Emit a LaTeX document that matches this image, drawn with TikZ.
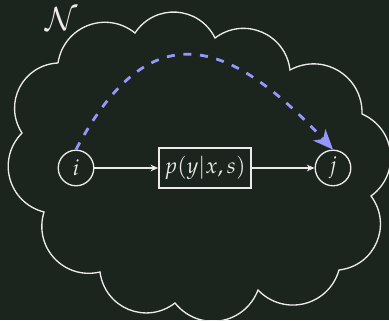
\documentclass[tikz,border=0pt]{standalone}
\usepackage{mathpazo}
\usetikzlibrary{arrows.meta}
\definecolor{bgcol}{RGB}{28,37,29}
\definecolor{fgcol}{RGB}{235,235,235}
\definecolor{linkcol}{RGB}{150,150,255}
\begin{document}
\begin{tikzpicture}[
                x=0.45pt, y=0.45pt,
                netcloud/.style={
                    draw=fgcol,
                    line width=0.6pt
                },
                puffarc/.style={
                    bend left=60,
                    looseness=1.15
                },
                agent/.style={
                    circle,
                    draw=fgcol,
                    line width=0.6pt,
                    text=fgcol,
                    minimum size=16pt,
                    inner sep=0pt
                },
                channel/.style={
                    rectangle,
                    draw=fgcol,
                    line width=0.6pt,
                    text=fgcol,
                    minimum width=41.5pt,
                    minimum height=18pt,
                    inner sep=1pt
                },
                arrow/.style={
                    -{Stealth[length=3.5pt,width=3pt]},
                    draw=fgcol,
                    line width=0.6pt
                },
                link/.style={
                    -{Stealth[length=9pt,width=7.5pt,inset=2.5pt]},
                    draw=linkcol,
                    line width=1.25pt,
                    dash pattern=on 3.6pt off 3.9pt
                }
            ]
                \fill[bgcol] (0,0) rectangle (389,320);
                \useasboundingbox (0,0) rectangle (389,320);

                % the network cloud, puff by puff
                \draw[netcloud] (58,257) to[puffarc] (135,287) to[puffarc] (215,282)
                    to[puffarc] (290,250) to[puffarc] (362,206) to[puffarc] (371,124)
                    to[puffarc] (339,50) to[puffarc] (258,30) to[puffarc] (175,17)
                    to[puffarc] (100,48) to[puffarc] (44,108) to[puffarc] (22,187)
                    to[puffarc] (58,257);
                \node[text=fgcol, font=\Large] (netlabel) at (62,301) {$\mathcal{N}$};

                \node[agent] (i) at (76,152)  {$i$};
                \node[channel] (ch) at (205,152) {$p(y|x,s)$};
                \node[agent] (j) at (333,152) {$j$};

                \draw[arrow] (i) -- (ch);
                \draw[arrow] (ch) -- (j);
                \draw[link] (i.north) to[out=62, in=133, looseness=1.55] (j.north);
        \end{tikzpicture}
\end{document}
